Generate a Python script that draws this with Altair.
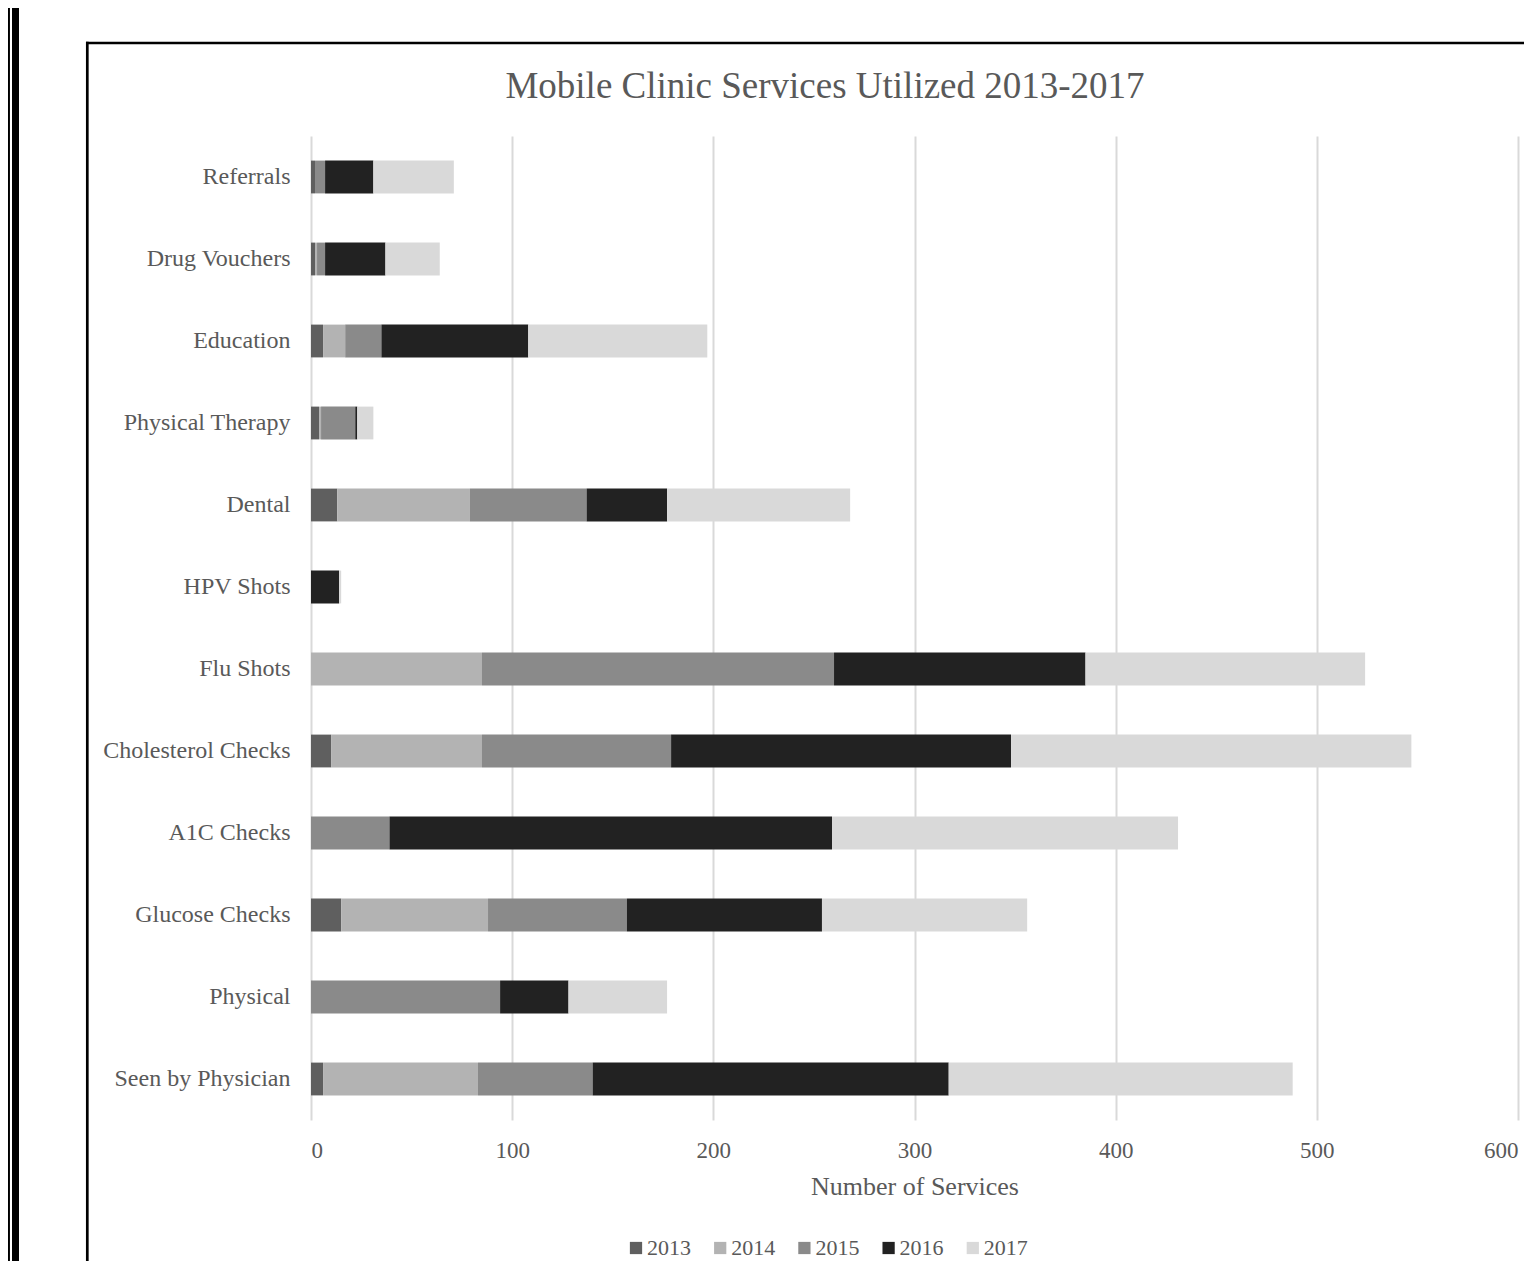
import altair as alt
import pandas as pd

categories = ["Referrals", "Drug Vouchers", "Education", "Physical Therapy", "Dental",
              "HPV Shots", "Flu Shots", "Cholesterol Checks", "A1C Checks",
              "Glucose Checks", "Physical", "Seen by Physician"]
years = ["2013", "2014", "2015", "2016", "2017"]
v2013 = [2, 2, 6, 4, 13, 0, 0, 10, 0, 15, 0, 6]
v2014 = [0, 1, 11, 1, 66, 0, 85, 75, 0, 73, 0, 77]
v2015 = [5, 4, 18, 17, 58, 0, 175, 94, 39, 69, 94, 57]
v2016 = [24, 30, 73, 1, 40, 14, 125, 169, 220, 97, 34, 177]
v2017 = [40, 27, 89, 8, 91, 1, 139, 199, 172, 102, 49, 171]
colors = ["#5f5f5f", "#b3b3b3", "#8a8a8a", "#222222", "#d9d9d9"]
x_ticks = [0, 100, 200, 300, 400, 500, 600]
title_text = "Mobile Clinic Services Utilized 2013-2017"
x_title = "Number of Services"

series = [v2013, v2014, v2015, v2016, v2017]
rows = []
for yi, (yr, vals) in enumerate(zip(years, series)):
    for c, v in zip(categories, vals):
        rows.append({"category": c, "year": yr, "order": yi, "value": v})
df = pd.DataFrame(rows)

FONT = "Liberation Serif"
TXT = "#595959"
W, H = 1207, 984
PT = 128  # top padding (plot top at page 8 + PT)

bars = alt.Chart(df).mark_bar().encode(
    x=alt.X("value:Q", stack="zero",
            scale=alt.Scale(domain=[0, 600], nice=False),
            axis=alt.Axis(values=x_ticks, title=x_title, grid=True,
                          gridColor="#d9d9d9", gridWidth=2, domain=False,
                          ticks=False, labelPadding=19, titlePadding=11,
                          labelFontSize=23, titleFontSize=26,
                          titleFontWeight="normal", labelFont=FONT,
                          titleFont=FONT, labelColor=TXT, titleColor=TXT)),
    y=alt.Y("category:N", sort=categories,
            scale=alt.Scale(paddingInner=0.6, paddingOuter=0.3),
            axis=alt.Axis(title=None, domain=False, ticks=False, grid=False,
                          labelPadding=21, labelFontSize=24, labelFont=FONT,
                          labelColor=TXT, labelLimit=0)),
    color=alt.Color("year:N", scale=alt.Scale(domain=years, range=colors),
                    legend=alt.Legend(title=None, orient="none", direction="horizontal",
                                      columns=5, legendX=314, legendY=1101,
                                      symbolType="square", symbolSize=150,
                                      symbolStrokeWidth=0, labelFont=FONT,
                                      labelFontSize=22, labelColor=TXT,
                                      labelOffset=0, columnPadding=18.2,
                                      padding=0)),
    order=alt.Order("order:Q"),
)

title = alt.Chart(pd.DataFrame({"t": [title_text]})).mark_text(
    font=FONT, fontSize=37, color=TXT, align="center", baseline="middle"
).encode(text="t:N", x=alt.value(514), y=alt.value(79 - PT))

one = pd.DataFrame({"a": [0]})
thin = alt.Chart(one).mark_rule(color="black", strokeWidth=2.5).encode(
    x=alt.value(-302.3), y=alt.value(-PT - 10), y2=alt.value(1200))
thick = alt.Chart(one).mark_rule(color="black", strokeWidth=7).encode(
    x=alt.value(-295.5), y=alt.value(-PT - 10), y2=alt.value(1200))
box_left = alt.Chart(one).mark_rule(color="black", strokeWidth=2.7).encode(
    x=alt.value(-223.7), y=alt.value(35 - PT - 1.3), y2=alt.value(1200))
box_top = alt.Chart(one).mark_rule(color="black", strokeWidth=2.7).encode(
    x=alt.value(-225), x2=alt.value(1260), y=alt.value(35 - PT))

chart = alt.layer(bars, title, thin, thick, box_left, box_top).properties(
    width=W, height=H,
    autosize=alt.AutoSizeParams(type="none"),
    padding={"left": 303, "top": PT, "right": 6, "bottom": 1253 - PT - H},
    background="white",
).configure_view(stroke=None)

chart.save("out.html", embed_options={"renderer": "svg", "actions": False})
